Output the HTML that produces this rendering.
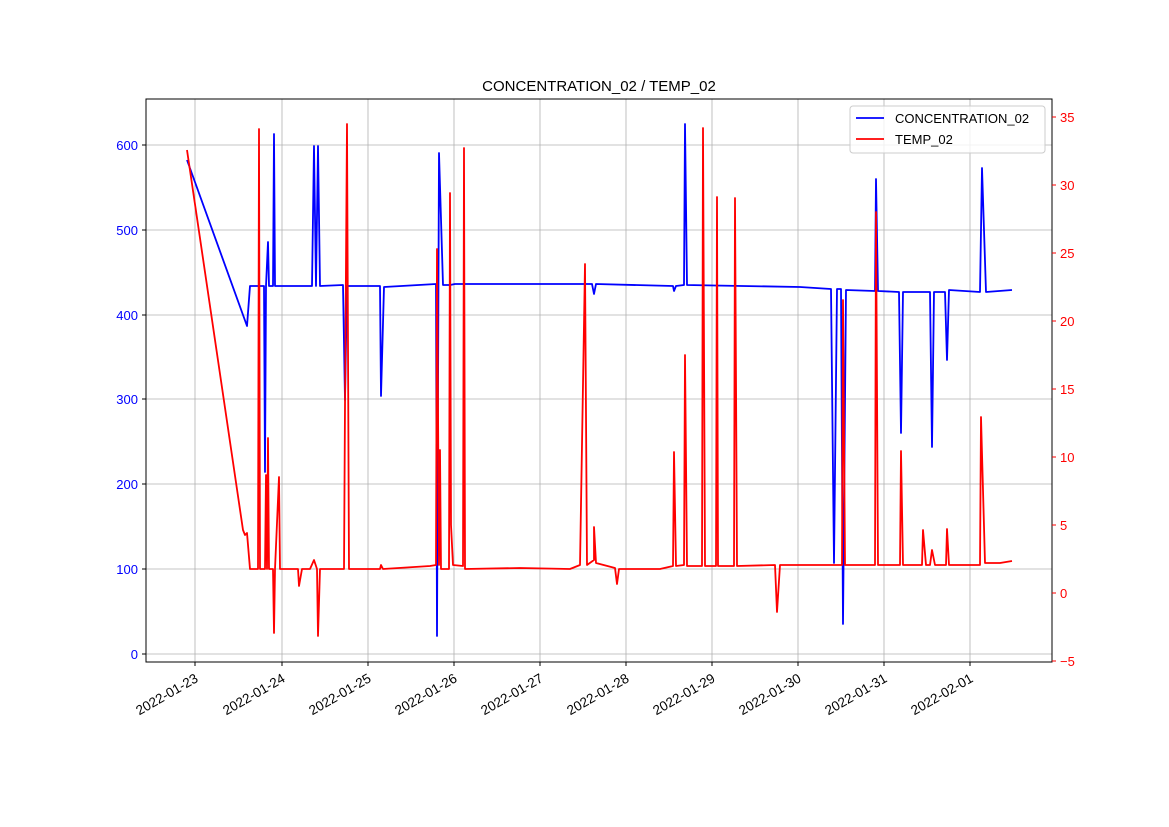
<!DOCTYPE html>
<html><head><meta charset="utf-8"><style>body{margin:0;background:#fff}svg{display:block}text{font-family:"Liberation Sans","DejaVu Sans",sans-serif}</style></head>
<body>
<svg width="1169" height="827" viewBox="0 0 1169 827" xmlns="http://www.w3.org/2000/svg">
<rect width="1169" height="827" fill="#fff"/>
<g stroke="#b0b0b0" stroke-width="0.8">
<line x1="195" y1="99" x2="195" y2="662"/><line x1="282" y1="99" x2="282" y2="662"/><line x1="368" y1="99" x2="368" y2="662"/><line x1="454" y1="99" x2="454" y2="662"/><line x1="540" y1="99" x2="540" y2="662"/><line x1="626" y1="99" x2="626" y2="662"/><line x1="712" y1="99" x2="712" y2="662"/><line x1="798" y1="99" x2="798" y2="662"/><line x1="884" y1="99" x2="884" y2="662"/><line x1="970" y1="99" x2="970" y2="662"/>
<line x1="146" y1="654" x2="1052" y2="654"/><line x1="146" y1="569" x2="1052" y2="569"/><line x1="146" y1="484" x2="1052" y2="484"/><line x1="146" y1="399" x2="1052" y2="399"/><line x1="146" y1="315" x2="1052" y2="315"/><line x1="146" y1="230" x2="1052" y2="230"/><line x1="146" y1="145" x2="1052" y2="145"/>
</g>
<polyline fill="none" stroke="#0000ff" stroke-width="1.8" stroke-linejoin="round" points="187,160 247,326 250,286 264,286 265,472 266,286 268,242 269,286 273,286 274,134 275,286 312,286 314,146 316,286 318,146 320,286 343,285 345,400 347,286 380,286 381,396 384,287 436,284 437,636 439,153 443,285 450,285 455,284 592,284 594,294 596,284 673,286 674,291 676,286 684,285 685,124 687,285 800,287 831,289 834,563 837,289 841,289 843,624 846,290 875,291 876,179 878,291 899,292 901,433 903,292 930,292 932,447 934,292 945,292 947,360 949,290 980,292 982,168 986,292 1012,290"/>
<polyline fill="none" stroke="#ff0000" stroke-width="1.8" stroke-linejoin="round" points="187,150 243,530 245,535 247,533 250,569 258,569 259,129 260,569 265,569 266,475 267,569 268,438 269,569 273,569 274,633 275,569 279,477 280,569 298,569 299,586 302,569 310,569 314,560 317,569 318,636 320,569 344,569 345,405 347,124 349,569 380,569 381,565 383,569 430,566 436,565 437,249 439,565 440,450 441,569 449,569 450,193 451,525 453,565 463,566 464,148 465,569 520,568 570,569 580,565 585,264 587,565 594,560 594,527 596,563 615,568 617,584 619,569 660,569 673,566 674,452 676,566 684,565 685,355 687,566 702,566 703,128 705,566 716,566 717,197 718,566 734,566 735,198 737,566 775,565 777,612 780,565 830,565 842,565 843,300 845,565 875,565 876,212 878,565 900,565 901,451 903,565 922,565 923,530 926,565 930,565 932,550 935,565 946,565 947,529 949,565 980,565 981,417 985,563 1000,563 1012,561"/>
<rect x="146" y="99" width="906" height="563" fill="none" stroke="#000" stroke-width="1"/>
<g stroke="#000"><line x1="195" y1="662" x2="195" y2="666"/><line x1="282" y1="662" x2="282" y2="666"/><line x1="368" y1="662" x2="368" y2="666"/><line x1="454" y1="662" x2="454" y2="666"/><line x1="540" y1="662" x2="540" y2="666"/><line x1="626" y1="662" x2="626" y2="666"/><line x1="712" y1="662" x2="712" y2="666"/><line x1="798" y1="662" x2="798" y2="666"/><line x1="884" y1="662" x2="884" y2="666"/><line x1="970" y1="662" x2="970" y2="666"/>
<line x1="142" y1="654" x2="146" y2="654"/><line x1="142" y1="569" x2="146" y2="569"/><line x1="142" y1="484" x2="146" y2="484"/><line x1="142" y1="399" x2="146" y2="399"/><line x1="142" y1="315" x2="146" y2="315"/><line x1="142" y1="230" x2="146" y2="230"/><line x1="142" y1="145" x2="146" y2="145"/></g>
<g stroke="#ff0000"><line x1="1052" y1="661" x2="1056" y2="661"/><line x1="1052" y1="593" x2="1056" y2="593"/><line x1="1052" y1="525" x2="1056" y2="525"/><line x1="1052" y1="457" x2="1056" y2="457"/><line x1="1052" y1="389" x2="1056" y2="389"/><line x1="1052" y1="321" x2="1056" y2="321"/><line x1="1052" y1="253" x2="1056" y2="253"/><line x1="1052" y1="185" x2="1056" y2="185"/><line x1="1052" y1="117" x2="1056" y2="117"/></g>
<g font-size="13" fill="#0000ff" text-anchor="end"><text x="138" y="659">0</text><text x="138" y="574">100</text><text x="138" y="489">200</text><text x="138" y="404">300</text><text x="138" y="320">400</text><text x="138" y="235">500</text><text x="138" y="150">600</text></g>
<g font-size="13" fill="#ff0000"><text x="1060" y="666">−5</text><text x="1060" y="598">0</text><text x="1060" y="530">5</text><text x="1060" y="462">10</text><text x="1060" y="394">15</text><text x="1060" y="326">20</text><text x="1060" y="258">25</text><text x="1060" y="190">30</text><text x="1060" y="122">35</text></g>
<g font-size="13.5" fill="#000" text-anchor="end">
<text transform="translate(199,681) rotate(-30)">2022-01-23</text><text transform="translate(286,681) rotate(-30)">2022-01-24</text><text transform="translate(372,681) rotate(-30)">2022-01-25</text><text transform="translate(458,681) rotate(-30)">2022-01-26</text><text transform="translate(544,681) rotate(-30)">2022-01-27</text><text transform="translate(630,681) rotate(-30)">2022-01-28</text><text transform="translate(716,681) rotate(-30)">2022-01-29</text><text transform="translate(802,681) rotate(-30)">2022-01-30</text><text transform="translate(888,681) rotate(-30)">2022-01-31</text><text transform="translate(974,681) rotate(-30)">2022-02-01</text></g>
<text x="599" y="91" font-size="15" text-anchor="middle">CONCENTRATION_02 / TEMP_02</text>
<rect x="850" y="106" width="195" height="47" rx="3" fill="#fff" fill-opacity="0.8" stroke="#ccc"/>
<line x1="856" y1="118" x2="884" y2="118" stroke="#0000ff" stroke-width="1.8"/><text x="895" y="123" font-size="13">CONCENTRATION_02</text>
<line x1="856" y1="139" x2="884" y2="139" stroke="#ff0000" stroke-width="1.8"/><text x="895" y="144" font-size="13">TEMP_02</text>
</svg>
</body></html>
